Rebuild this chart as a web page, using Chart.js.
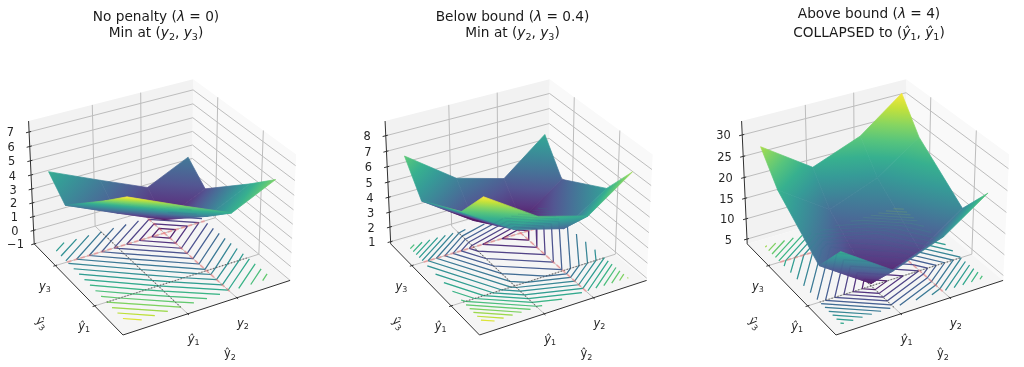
<!DOCTYPE html>
<html><head><meta charset="utf-8">
<style>html,body{margin:0;padding:0;background:#fff;width:1024px;height:367px;overflow:hidden}canvas{position:absolute;top:0;filter:blur(0.35px)}</style>
<script src="https://cdn.jsdelivr.net/npm/chart.js@4"></script>
</head><body>
<script>
// axis positions on the 0..1 box of each 3D axes
const gridX = [0.07, 0.375, 0.67, 0.93];
const gridY = [0.07, 0.30, 0.745, 0.93];
const xTickPos = [0.375, 0.67];
const yTickPos = [0.30, 0.745];
// surface heights, rows follow gridY, columns gridX
const zNoPenalty = [[7.6,6.0,4.5,5.9],[6.0,4.4,2.9,4.3],[3.1,1.5,0.0,1.4],[4.4,2.8,1.3,2.7]];
const zBelow = [[8.8,6.65,5.74,7.7],[6.65,4.55,3.65,5.45],[4.91,2.66,1.75,3.71],[6.85,4.49,3.58,5.8]];
const zAbove = [[20.6,12.5,16.9,23.9],[12.5,4.4,8.8,15.8],[21.16,13.06,17.46,24.46],[27.8,19.7,24.1,31.7]];
const zLimNoPenalty = [-1.0,7.75];
const zLimBelow = [0.85,8.93];
const zLimAbove = [3.8,33.2];
const zTicksNoPenalty = [-1,0,1,2,3,4,5,6,7];
const zTicksBelow = [1,2,3,4,5,6,7,8];
const zTicksAbove = [5,10,15,20,25,30];
const levelsNoPenalty = [0.4,0.8,1.2,1.6,2,2.4,2.8,3.2,3.6,4,4.4,4.8,5.2,5.6,6,6.4,6.8,7.2];
const levelsBelow = [2.12,2.49,2.86,3.23,3.6,3.97,4.34,4.71,5.08,5.45,5.82,6.19,6.56,6.93,7.3,7.67,8.04,8.41];
const levelsAbove = [5.84,7.28,8.72,10.16,11.6,13.04,14.48,15.92,17.36,18.8,20.24,21.68,23.12,24.56,26,27.44,28.88,30.32];
const titleNoPenalty = [[['No penalty (',0],['λ',1],[' = 0)',0]],[['Min at (',0],['y',1],['2',2],[', ',0],['y',1],['3',2],[')',0]]];
const titleBelow = [[['Below bound (',0],['λ',1],[' = 0.4)',0]],[['Min at (',0],['y',1],['2',2],[', ',0],['y',1],['3',2],[')',0]]];
const titleAbove = [[['Above bound (',0],['λ',1],[' = 4)',0]],[['COLLAPSED to (',0],['ŷ',1],['1',2],[', ',0],['ŷ',1],['1',2],[')',0]]];
const xTickText = [[['ŷ',1],['1',2]],[['y',1],['2',2]]];
const yTickText = [[['ŷ',1],['1',2]],[['y',1],['3',2]]];
const VIRIDIS = ['#440154','#482475','#414487','#355f8d','#2a788e','#21918c','#22a884','#44bf70','#7ad151','#bddf26','#fde725'];

const panels = [
 {z:zNoPenalty,lim:zLimNoPenalty,ticks:zTicksNoPenalty,levels:levelsNoPenalty,title:titleNoPenalty,left:0,w:356,off:0,tb:20.5},
 {z:zBelow,lim:zLimBelow,ticks:zTicksBelow,levels:levelsBelow,title:titleBelow,left:356,w:357,off:356.5,tb:20.5},
 {z:zAbove,lim:zLimAbove,ticks:zTicksAbove,levels:levelsAbove,title:titleAbove,left:713,w:311,off:713,tb:18}
];

const BOX=[1.1906,1.1906,0.8929], DIST=10, SCALE=1608, TX=159.8, TY=201, H=367, FONT='"DejaVu Sans"';
function project(a,b,c){
  const d=[(a-0.5)*BOX[0],(b-0.5)*BOX[1],(c-0.5)*BOX[2]];
  const xv=d[0]*0.8660254-d[1]*0.5;
  const yv=d[0]*0.25+d[1]*0.4330127+d[2]*0.8660254;
  const dw=-d[0]*0.4330127-d[1]*0.75+d[2]*0.5;
  const k=1/(DIST-dw);
  return {x:xv*k,y:yv*k};
}
function hexRGB(h){return [1,3,5].map(i=>parseInt(h.substr(i,2),16));}
function viridis(t,a){
  t=Math.max(0,Math.min(1,t))*(VIRIDIS.length-1);
  const i=Math.min(VIRIDIS.length-2,Math.floor(t)),f=t-i,p=hexRGB(VIRIDIS[i]),q=hexRGB(VIRIDIS[i+1]);
  const c=p.map((v,j)=>Math.round(v+(q[j]-v)*f));
  return 'rgba('+c[0]+','+c[1]+','+c[2]+','+(a===undefined?1:a)+')';
}
function veil(h){const c=hexRGB(h).map(v=>Math.round(v*0.9+245*0.1));return 'rgb('+c.join(',')+')';}
function line(pts,color,width,extra){return Object.assign({data:pts,showLine:true,pointRadius:0,borderColor:color,borderWidth:width,fill:false,tension:0},extra||{});}
function poly(pts,color){pts=pts.concat([pts[0]]);return {data:pts,showLine:true,pointRadius:0,borderWidth:0,borderColor:color,backgroundColor:color,fill:'shape',tension:0};}

function contourSegments(p,level,zn){
  const pts=[];
  for(let j=0;j<gridY.length-1;j++)for(let i=0;i<gridX.length-1;i++){
    const cs=[[i,j],[i+1,j],[i+1,j+1],[i,j+1]],hit=[];
    for(let k=0;k<4;k++){
      const A=cs[k],B=cs[(k+1)%4],za=p.z[A[1]][A[0]],zb=p.z[B[1]][B[0]];
      if((za-level)*(zb-level)<0||(za===level&&zb!==level)){
        const t=(level-za)/(zb-za);
        hit.push([gridX[A[0]]+(gridX[B[0]]-gridX[A[0]])*t,gridY[A[1]]+(gridY[B[1]]-gridY[A[1]])*t]);
      }
    }
    if(hit.length>=2){pts.push(project(hit[0][0],hit[0][1],zn),project(hit[1][0],hit[1][1],zn),{x:0,y:NaN});}
  }
  return pts;
}
function cellGradient(chart,p,n,i,j,tx){
  const Z=p.z;
  const P=(ii,jj)=>{const q=project(gridX[ii],gridY[jj],n(Z[jj][ii]));return [tx+q.x*SCALE,TY-q.y*SCALE,Z[jj][ii]];};
  const a=P(i,j),b=P(i+1,j),c=P(i,j+1),d=P(i+1,j+1);
  const u=[b[0]-a[0],b[1]-a[1]],v=[c[0]-a[0],c[1]-a[1]],du=b[2]-a[2],dv=c[2]-a[2];
  const det=u[0]*v[1]-u[1]*v[0];
  const zmin=Math.min(...Z.flat()),zmax=Math.max(...Z.flat());
  if(Math.abs(det)<1e-3)return viridis(((a[2]+d[2])/2-zmin)/(zmax-zmin));
  const gx=(du*v[1]-dv*u[1])/det,gy=(u[0]*dv-v[0]*du)/det,g2=gx*gx+gy*gy;
  if(g2<1e-9)return viridis((a[2]-zmin)/(zmax-zmin));
  const g=chart.ctx.createLinearGradient(a[0]+gx*(zmin-a[2])/g2,a[1]+gy*(zmin-a[2])/g2,a[0]+gx*(zmax-a[2])/g2,a[1]+gy*(zmax-a[2])/g2);
  VIRIDIS.forEach((col,k)=>g.addColorStop(k/(VIRIDIS.length-1),veil(col)));
  return g;
}
function buildDatasets(p,tx){
  const n=z=>(z-p.lim[0])/(p.lim[1]-p.lim[0]);
  const seq=[];
  // panes
  seq.push(poly([project(0,1,0),project(1,1,0),project(1,1,1),project(0,1,1)],'#f2f2f2'));
  seq.push(poly([project(1,0,0),project(1,1,0),project(1,1,1),project(1,0,1)],'#f9f9f9'));
  seq.push(poly([project(0,0,0),project(1,0,0),project(1,1,0),project(0,1,0)],'#f5f5f5'));
  // grid
  const G='#bdbdbd',W=1;
  xTickPos.forEach(x=>{seq.push(line([project(x,0,0),project(x,1,0),project(x,1,1)],G,W));});
  yTickPos.forEach(y=>{seq.push(line([project(0,y,0),project(1,y,0),project(1,y,1)],G,W));});
  p.ticks.forEach(t=>{const c=n(t);seq.push(line([project(0,1,c),project(1,1,c),project(1,0,c)],G,W));});
  // contours on the floor
  const zs=p.z.flat(),zlo=Math.min(...zs),zhi=Math.max(...zs);
  const cAt=l=>(l-zlo)/(zhi-zlo);
  p.levels.forEach(l=>seq.push(line(contourSegments(p,l,0),viridis(cAt(l),0.92),1.2,{spanGaps:false})));
  // optimum cross and collapse cross
  const PINK='rgba(255,110,110,0.42)',GRY='rgba(70,70,70,0.7)';
  seq.push(line([project(gridX[2],gridY[0],0),project(gridX[2],gridY[3],0)],PINK,2,{borderDash:[4.5,2.5]}));
  seq.push(line([project(gridX[0],gridY[2],0),project(gridX[3],gridY[2],0)],PINK,2,{borderDash:[4.5,2.5]}));
  seq.push(line([project(gridX[1],gridY[0],0),project(gridX[1],gridY[3],0)],GRY,1.2,{borderDash:[1.2,1.9]}));
  seq.push(line([project(gridX[0],gridY[1],0),project(gridX[3],gridY[1],0)],GRY,1.2,{borderDash:[1.2,1.9]}));
  // surface, far cells first
  for(let j=gridY.length-2;j>=0;j--)for(let i=gridX.length-2;i>=0;i--){
    const Q=[[i,j],[i+1,j],[i+1,j+1],[i,j+1],[i,j]].map(c=>project(gridX[c[0]],gridY[c[1]],n(p.z[c[1]][c[0]])));
    const col=c=>cellGradient(c.chart,p,n,i,j,tx);
    seq.push({data:Q,showLine:true,pointRadius:0,borderWidth:0.7,borderColor:col,backgroundColor:col,fill:'shape',tension:0});
  }
  // faint show-through of what lies under the translucent surface
  p.levels.forEach(l=>seq.push(line(contourSegments(p,l,0),viridis(cAt(l),0.14),1.2,{spanGaps:false})));
  // axes
  const AX='#303030';
  seq.push(line([project(0,1,0),project(0,0,0),project(1,0,0)],AX,1));
  seq.push(line([project(0,1,0),project(0,1,1)],AX,1));
  xTickPos.forEach(x=>seq.push(line([project(x,-0.012,0),project(x,0.01,0)],AX,1)));
  yTickPos.forEach(y=>seq.push(line([project(-0.012,y,0),project(0.01,y,0)],AX,1)));
  p.ticks.forEach(t=>{const c=n(t);seq.push(line([project(-0.018,1,c),project(0.012,1,c)],AX,1));});
  return seq.map((d,k)=>Object.assign(d,{order:seq.length-k}));
}
function runs(ctx,parts,cx,base,size,color){
  const font=(s,it)=>(it?'oblique ':'')+s+'px '+FONT;
  const seg=parts.map(r=>{const sub=r[1]===2,s=sub?size*0.7:size;ctx.font=font(s,r[1]===1);return {t:r[0],s:s,it:r[1]===1,sub:sub,w:ctx.measureText(r[0]).width};});
  let x=cx-seg.reduce((a,b)=>a+b.w,0)/2;
  ctx.textAlign='left';ctx.textBaseline='alphabetic';ctx.fillStyle=color||'#262626';
  seg.forEach(r=>{ctx.font=font(r.s,r.it);ctx.fillText(r.t,x,base+(r.sub?size*0.22:0));x+=r.w;});
}
panels.forEach(p=>{
  const tx=TX+p.off-p.left;
  const cv=document.createElement('canvas');
  cv.style.left=p.left+'px';cv.width=p.w;cv.height=H;cv.style.width=p.w+'px';cv.style.height=H+'px';
  document.body.appendChild(cv);
  const n=z=>(z-p.lim[0])/(p.lim[1]-p.lim[0]);
  const textPlugin={id:'labels3d',afterDraw(chart){
    const ctx=chart.ctx,sx=chart.scales.x,sy=chart.scales.y;
    const P=q=>[sx.getPixelForValue(q.x),sy.getPixelForValue(q.y)];
    ctx.save();
    const cx=156+p.off-p.left;
    runs(ctx,p.title[0],cx,p.tb,13.7,'#1a1a1a');
    runs(ctx,p.title[1],cx,37,13.7,'#1a1a1a');
    xTickPos.forEach((x,i)=>{const q=P(project(x,0,0));runs(ctx,xTickText[i],q[0]+6,q[1]+29,11.4);});
    yTickPos.forEach((y,i)=>{const q=P(project(0,y,0));runs(ctx,yTickText[i],q[0]-10.5,q[1]+24,11.4);});
    p.ticks.forEach(t=>{const q=P(project(0,1,n(t)));ctx.textAlign='center';ctx.textBaseline='alphabetic';ctx.font='11.4px '+FONT;ctx.fillStyle='#262626';ctx.fillText(String(t).replace('-','\u2212'),q[0]-18.7,q[1]+4.5);});
    runs(ctx,[['ŷ',0],['2',2]],230+p.off-p.left,357,11.4);
    ctx.translate(41.7+p.off-p.left,323);ctx.rotate(46*Math.PI/180);
    runs(ctx,[['ŷ',0],['3',2]],0,3.5,11.4);
    ctx.restore();
  }};
  new Chart(cv,{type:'scatter',data:{datasets:buildDatasets(p,tx)},plugins:[textPlugin],options:{
    responsive:false,animation:false,events:[],
    layout:{padding:0},
    plugins:{legend:{display:false},tooltip:{enabled:false},title:{display:false}},
    scales:{
      x:{type:'linear',display:false,min:-tx/SCALE,max:(p.w-tx)/SCALE},
      y:{type:'linear',display:false,min:(TY-H)/SCALE,max:TY/SCALE}
    }
  }});
});
</script>
</body></html>
